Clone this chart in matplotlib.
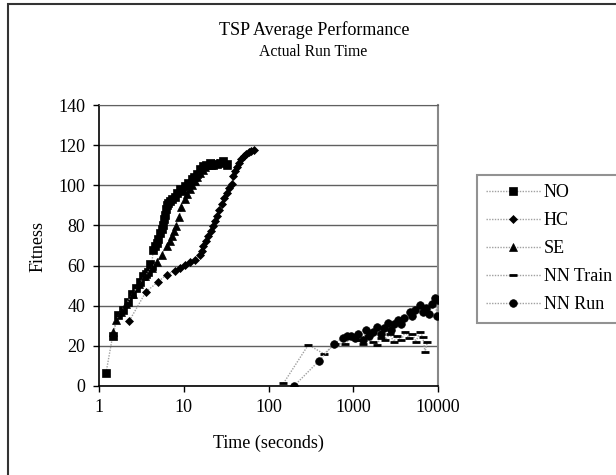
import matplotlib
matplotlib.use("Agg")
import matplotlib.pyplot as plt
from matplotlib.patches import Rectangle

plt.rcParams['font.family'] = ['Liberation Serif', 'DejaVu Serif']

# ---- data ----
no_x = [1.21, 1.45, 1.69, 1.94, 2.22, 2.43, 2.73, 3.05, 3.33, 3.6, 3.82, 4.0, 4.18, 4.37, 4.6,
        4.79, 5.0, 5.25, 5.5, 5.73, 5.9, 6.0, 6.15, 6.28, 6.6, 6.88, 7.3, 7.87, 8.4, 9.0, 9.6,
        10.3, 11.2, 12.4, 13.3, 14.2, 15.5, 17.0, 18.5, 20.4, 22.0, 24.5, 26.5, 29.3, 32.0]
no_y = [6.5, 25, 35.5, 38, 42, 46, 49, 52, 54.7, 56, 57, 61, 60, 68, 70,
        71, 73, 76, 78, 80, 83, 85, 88, 90, 91, 92, 93, 94, 96, 98, 97,
        99.7, 101, 103, 104, 105.5, 108, 109.7, 110, 111, 110, 110.5, 111, 112, 110.5]

hc_x = [2.28, 3.59, 4.92, 6.28, 7.87, 9.0, 10.3, 11.8, 13.6, 15.5, 16.3, 17.0, 18.2, 19.5,
        20.8, 22.3, 23.4, 24.5, 26.2, 28.0, 30.0, 32.0, 34.3, 36.6, 38.4, 40.0, 42.0, 45.0,
        48.0, 51.0, 55.0, 59.0, 63.0, 67.0]
hc_y = [32.5, 47, 51.7, 55.5, 57.5, 58.8, 60.5, 62, 63, 65.5, 67.5, 69.7, 72, 74.7,
        77, 79.7, 82, 84.7, 87.5, 90.5, 93.5, 96.3, 98.5, 100.5, 104.7, 107, 109, 111,
        113, 114.5, 115.5, 116.5, 117, 117.5]

se_x = [1.48, 1.6, 1.8, 2.1, 2.5, 3.0, 3.5, 4.2, 4.79, 5.5, 6.28, 6.8, 7.2, 7.6, 8.1, 8.9,
        9.4, 10.3, 11.0, 11.8, 12.6, 13.5, 14.5, 15.5, 16.7, 18.0, 19.5, 21.0, 23.0, 25.0,
        27.0, 29.0, 32.0]
se_y = [27, 33, 37, 41, 46, 51, 55, 59, 62, 65.5, 69.7, 72, 74.7, 77, 79.7, 84,
        89, 93, 95.5, 98, 100, 102, 104, 106, 107.5, 109, 110, 110, 111, 111,
        111.5, 111.5, 110]

nnt_x = [150, 295, 452, 610, 800, 950, 1100, 1300, 1500, 1700, 1900, 2100, 2400, 2700, 3000,
         3300, 3700, 4100, 4500, 5000, 5500, 6100, 6600, 7030, 7500]
nnt_y = [1.3, 20.5, 16, 21, 21, 24, 23, 21, 25, 22, 20.5, 24, 23, 26, 22,
         25, 23, 27, 24, 26, 22, 27, 24.6, 17, 22]

nnr_x = [200, 394, 593, 750, 850, 950, 1050, 1150, 1300, 1400, 1550, 1700, 1900, 2100, 2300,
         2580, 2800, 3000, 3400, 3700, 4000, 4680, 5000, 5400, 6130, 6600, 7300, 7900, 8500,
         9220, 9700, 9900]
nnr_y = [0, 12.5, 21, 24, 25, 25, 24, 26, 23, 28, 25, 27, 29.6, 26, 29,
         31.5, 28, 31, 33, 31, 34, 37, 35, 38, 40.5, 37, 39, 36, 41,
         44, 34.7, 43]

series = [
    ("NO", no_x, no_y, "s", 5.2),
    ("HC", hc_x, hc_y, "D", 4.2),
    ("SE", se_x, se_y, "^", 5.5),
    ("NN Train", nnt_x, nnt_y, "_", 5.5),
    ("NN Run", nnr_x, nnr_y, "o", 5.5),
]

W, H = 616, 475
fig = plt.figure(figsize=(W / 100, H / 100), dpi=100)

# outer chart border (chart area is cropped at right and bottom)
fig.patches.append(Rectangle((8 / W, 1 - 490 / H), (640 - 8) / W, (490 - 4) / H,
                             transform=fig.transFigure, fill=False,
                             edgecolor='#333333', linewidth=1.5))

ax = fig.add_axes([99 / W, 1 - 386 / H, (438 - 99) / W, (386 - 105) / H])

handles = []
for name, xs, ys, m, ms in series:
    h, = ax.plot(xs, ys, linestyle=(0, (1, 1)), color='#a0a0a0', linewidth=1.0,
                 marker=m, markersize=ms, markerfacecolor='black',
                 markeredgecolor='black', markeredgewidth=2.0 if m == '_' else 0.5,
                 label=name, zorder=3)
    handles.append(h)

ax.set_xscale('log')
ax.set_xlim(1, 10000)
ax.set_ylim(0, 140)
ax.set_yticks(range(0, 141, 20))
ax.set_xticks([1, 10, 100, 1000, 10000])
ax.set_xticklabels(['1', '10', '100', '1000', '10000'])
ax.xaxis.set_minor_locator(matplotlib.ticker.NullLocator())
ax.tick_params(axis='both', labelsize=13, direction='out', length=4, width=1,
               color='black')
ax.tick_params(axis='y', pad=6)
ax.tick_params(axis='x', pad=5)
ax.grid(axis='y', color='#606060', linewidth=1.0)
ax.set_axisbelow(True)
ax.spines['left'].set_color('black')
ax.spines['bottom'].set_color('black')
ax.spines['right'].set_color('#888888')
ax.spines['top'].set_color('#606060')
ax.spines['left'].set_linewidth(1.2)
ax.spines['bottom'].set_linewidth(1.2)
ax.spines['right'].set_linewidth(1.5)

fig.text(268 / W, 1 - 443 / H, 'Time (seconds)', ha='center', va='center', fontsize=13)
fig.text(38 / W, 1 - 246 / H, 'Fitness', ha='center', va='center', fontsize=13, rotation=90)
fig.text(314 / W, 1 - 30 / H, 'TSP Average Performance', ha='center', va='center', fontsize=13)
fig.text(313 / W, 1 - 52 / H, 'Actual Run Time', ha='center', va='center', fontsize=11.3)

leg = fig.legend(handles=handles, loc='upper left',
                 bbox_to_anchor=(477 / W, 1 - 175 / H), bbox_transform=fig.transFigure,
                 frameon=True, fancybox=False, edgecolor='#777777', fontsize=13,
                 handlelength=3.0, handletextpad=0.17, labelspacing=0.61,
                 borderpad=0.52, borderaxespad=0, numpoints=1)
leg.get_frame().set_linewidth(1.5)

fig.savefig('out.png', dpi=100)
